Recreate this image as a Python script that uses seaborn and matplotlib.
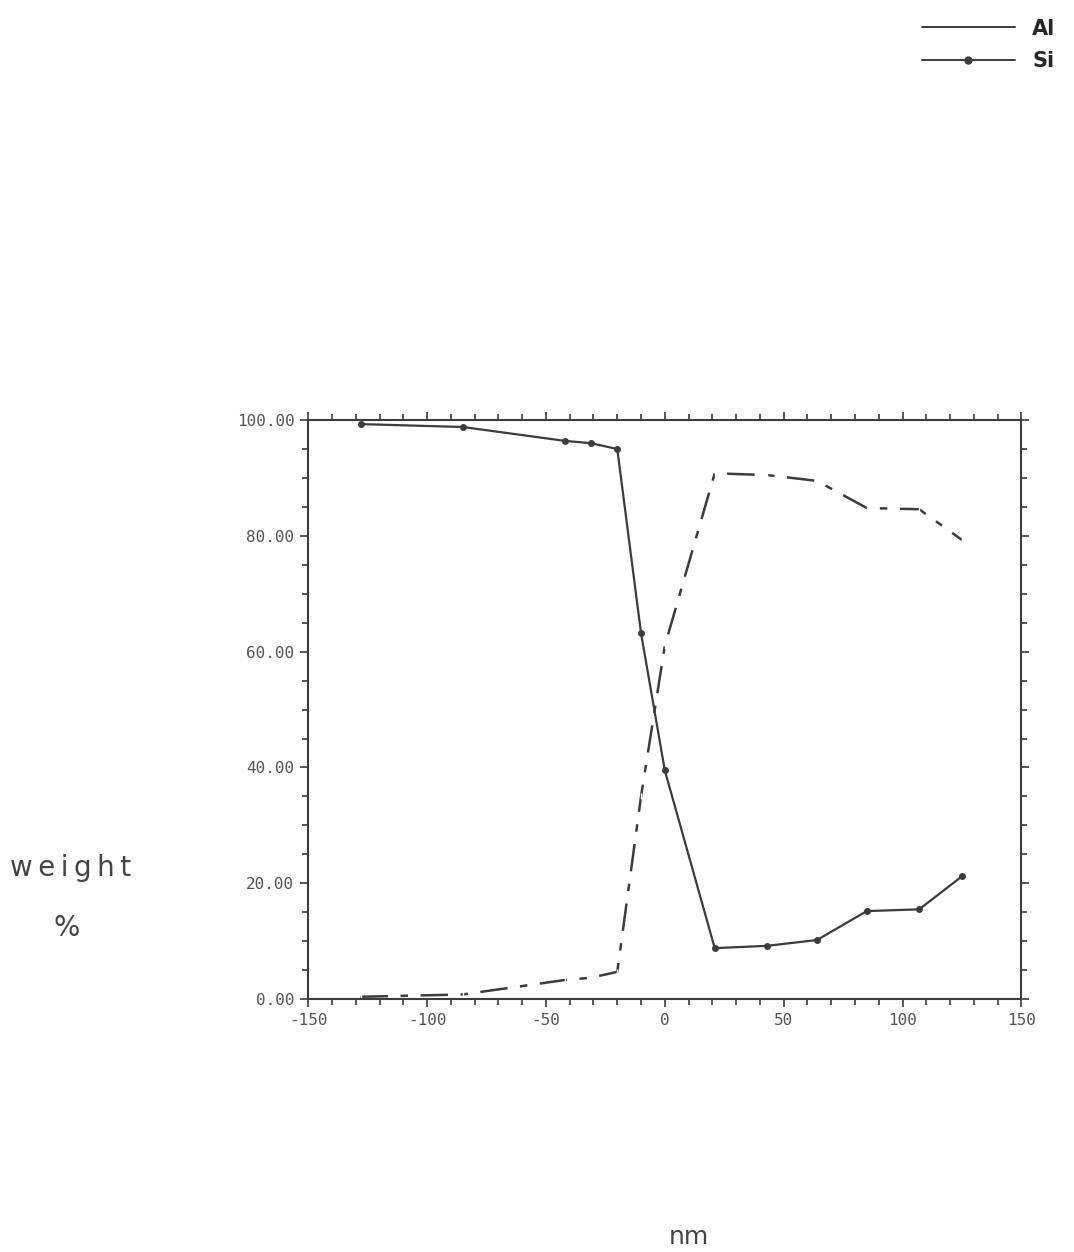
import matplotlib
matplotlib.use("Agg")
import matplotlib.pyplot as plt
from matplotlib.lines import Line2D
from matplotlib.ticker import MultipleLocator, FormatStrFormatter
import seaborn as sns
import pandas as pd

# ---- data ----
positions_nm = [-128, -85, -42, -31, -20, -10, 0, 21, 43, 64, 85, 107, 125]
si_weight = [99.3, 98.8, 96.4, 96.0, 95.0, 63.2, 39.5, 8.8, 9.2, 10.2, 15.2, 15.5, 21.2]
al_weight = [0.4, 0.8, 3.3, 3.7, 4.7, 35.0, 61.0, 90.8, 90.5, 89.5, 84.8, 84.6, 79.3]
x_ticks = [-150, -100, -50, 0, 50, 100, 150]
y_ticks = [0, 20, 40, 60, 80, 100]

sns.set_theme(style="white")
plt.rcParams['font.family'] = ['DejaVu Sans']

ink = "#3a3d3a"
fig = plt.figure(figsize=(10.74, 12.52), dpi=100)
ax = fig.add_axes([0.287, 0.202, 0.664, 0.4625])

df_si = pd.DataFrame({"x": positions_nm, "y": si_weight})
df_al = pd.DataFrame({"x": positions_nm, "y": al_weight})

sns.lineplot(data=df_si, x="x", y="y", ax=ax, color=ink, lw=1.6,
             marker="o", markersize=5, markeredgewidth=0, sort=False)
sns.lineplot(data=df_al, x="x", y="y", ax=ax, color=ink, lw=1.8,
             dashes=False, sort=False, marker="|", markersize=4,
             markeredgewidth=1.0)
ax.lines[-1].set_dashes([11, 5, 3, 5])

ax.set_xlim(-150, 150)
ax.set_ylim(0, 100)
ax.set_xticks(x_ticks)
ax.set_yticks(y_ticks)
ax.xaxis.set_minor_locator(MultipleLocator(10))
ax.yaxis.set_minor_locator(MultipleLocator(5))
ax.yaxis.set_major_formatter(FormatStrFormatter("%.2f"))
ax.xaxis.set_major_formatter(FormatStrFormatter("%d"))
ax.tick_params(which="both", direction="out", color=ink, width=1.2,
               top=True, right=True, bottom=True, left=True,
               labeltop=False, labelright=False)
ax.tick_params(which="major", length=6, labelsize=11.5, labelcolor="#555555", pad=4)
ax.tick_params(which="minor", length=4)
for s in ax.spines.values():
    s.set_color(ink)
    s.set_linewidth(1.5)
ax.set_xlabel("")
ax.set_ylabel("")
for lab in ax.get_xticklabels() + ax.get_yticklabels():
    lab.set_fontfamily("DejaVu Sans Mono")

fig.text(0.066, 0.307, "w\u2009e\u2009i\u2009g\u2009h\u2009t", fontsize=20, color="#444444",
         ha="center", va="center")
fig.text(0.062, 0.259, "%", fontsize=20, color="#444444", ha="center", va="center")
fig.text(0.641, 0.012, "nm", fontsize=18, color="#444444", ha="center", va="center")

handles = [Line2D([], [], color=ink, lw=1.4),
           Line2D([], [], color=ink, lw=1.4, marker="o", markersize=5)]
fig.legend(handles, ["Al", "Si"], loc="upper right", bbox_to_anchor=(1.0, 1.0),
           frameon=False, handlelength=4.5, labelspacing=0.6,
           prop={"weight": "bold", "size": 15})

fig.savefig("out.png", dpi=100)
